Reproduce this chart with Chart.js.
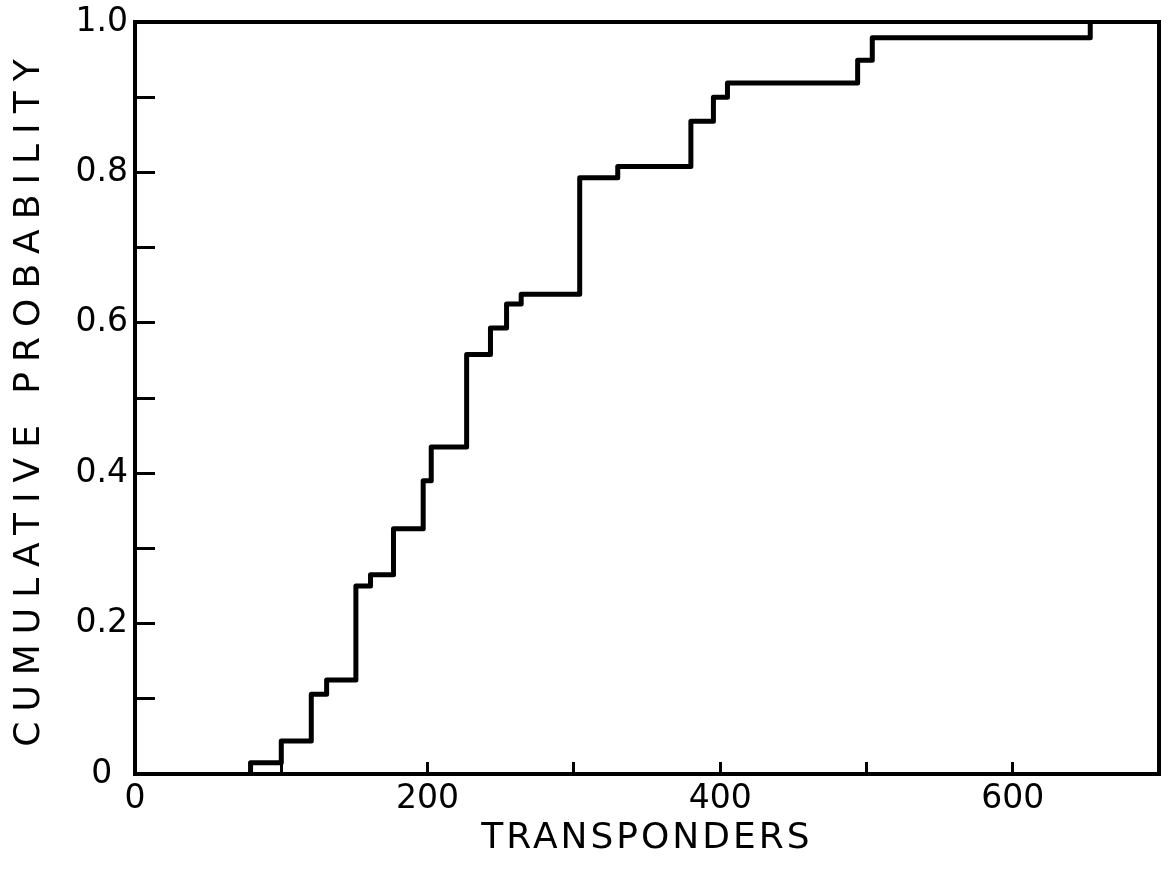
<!DOCTYPE html>
<html>
<head>
<meta charset="utf-8">
<script src="https://cdn.jsdelivr.net/npm/chart.js@4"></script>
<style>
  body { margin: 0; background: #fff; }
  #wrap { width: 1170px; height: 870px; }
</style>
</head>
<body>
<div id="wrap"><canvas id="cdf_chart"></canvas></div>
<script>
// jump points of the empirical distribution (number of transponders -> cumulative prob.)
const transponders = [79, 79, 100, 120.5, 131, 151, 161, 176.7, 197, 202.5, 226.7, 243, 254, 264, 304, 330, 380, 395.4, 405, 494, 504, 653];
const cumProb = [0, 0.015, 0.044, 0.106, 0.125, 0.25, 0.265, 0.326, 0.39, 0.435, 0.558, 0.593, 0.625, 0.638, 0.793, 0.808, 0.868, 0.9, 0.919, 0.949, 0.979, 1.0];
const xLabelled = [0, 200, 400, 600];
const yLabelled = ['0', '0.2', '0.4', '0.6', '0.8', '1.0'];

const FONT = 'DejaVu Sans';

// wider letter spacing on the axis titles, like the stencil lettering
const titleSpacing = {
    id: 'titleSpacing',
    afterLayout(chart) {
        let gaps = {x: '3px', y: '10px'};
        for (let id in gaps) {
            let scale = chart.scales[id];
            if (scale._spaced) continue;
            let draw = scale.drawTitle.bind(scale);
            scale.drawTitle = function () {
                let ctx = this.ctx;
                ctx.save();
                ctx.letterSpacing = gaps[id];
                draw();
                ctx.restore();
            };
            scale._spaced = true;
        }
    }
};

// top and right sides of the frame
const frame = {
    id: 'frame',
    afterDraw(chart) {
        let {ctx, chartArea} = chart;
        ctx.save();
        ctx.strokeStyle = '#000';
        ctx.lineWidth = 4;
        ctx.beginPath();
        ctx.moveTo(chartArea.left, chartArea.top);
        ctx.lineTo(chartArea.right, chartArea.top);
        ctx.lineTo(chartArea.right, chartArea.bottom);
        ctx.stroke();
        ctx.restore();
    }
};

let points = transponders.map((x, i) => ({x: x, y: cumProb[i]}));

let data = {
    datasets: [{
        data: points,
        stepped: 'before',
        borderColor: '#000',
        borderWidth: 5,
        borderJoinStyle: 'round',
        borderCapStyle: 'round',
        pointRadius: 0,
        fill: false
    }]
};

let config = {
    type: 'line',
    data,
    options: {
        responsive: true,
        maintainAspectRatio: false,
        animation: false,
        layout: {padding: {top: 0, right: 11, left: 0, bottom: 0}},
        plugins: {legend: {display: false}, tooltip: {enabled: false}},
        scales: {
            x: {
                type: 'linear',
                min: 0,
                max: 700,
                afterFit: (s) => { s.height = 96; s.paddingRight = 0; },
                border: {display: true, color: '#000', width: 4},
                grid: {drawOnChartArea: false, tickLength: -12, tickWidth: 3, tickColor: '#000'},
                ticks: {
                    stepSize: 100,
                    maxRotation: 0,
                    padding: 18,
                    color: '#000',
                    font: {family: FONT, size: 33},
                    callback: (v) => xLabelled.includes(v) ? String(v) : ''
                },
                title: {
                    display: true,
                    text: 'TRANSPONDERS',
                    color: '#000',
                    font: {family: FONT, size: 36},
                    padding: {top: 0, bottom: 10}
                }
            },
            y: {
                type: 'linear',
                min: 0,
                max: 1,
                afterFit: (s) => { s.width = 135; s.paddingTop = 22; },
                border: {display: true, color: '#000', width: 4},
                grid: {drawOnChartArea: false, tickLength: -20, tickWidth: 3, tickColor: '#000'},
                ticks: {
                    stepSize: 0.1,
                    padding: 27,
                    crossAlign: 'center',
                    color: '#000',
                    font: {family: FONT, size: 33},
                    callback: function (v) {
                        let k = Math.round(v * 10);
                        return k % 2 === 0 ? yLabelled[k / 2] : '';
                    }
                },
                title: {
                    display: true,
                    text: 'CUMULATIVE PROBABILITY',
                    color: '#000',
                    font: {family: FONT, size: 36},
                    padding: {top: 8, bottom: 0}
                }
            }
        }
    },
    plugins: [titleSpacing, frame]
};

let cdf_chart = new Chart(document.getElementById('cdf_chart'), config);
</script>
</body>
</html>
